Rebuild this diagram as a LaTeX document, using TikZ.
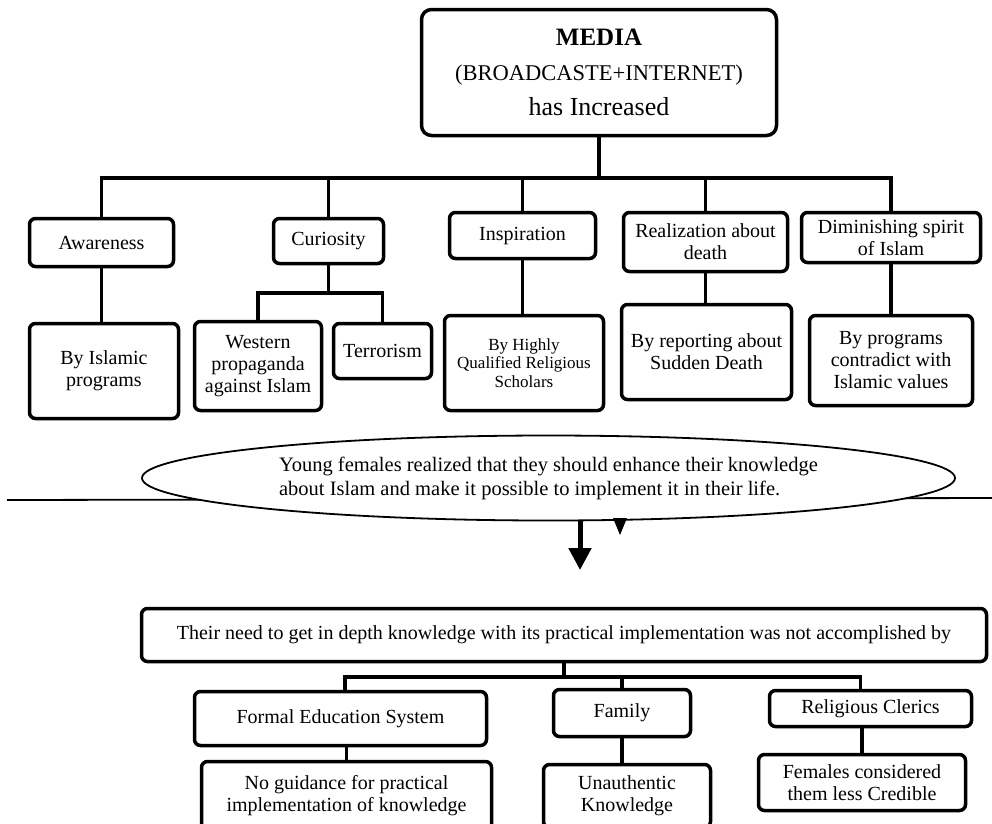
\documentclass[tikz,border=0pt]{standalone}
\usepackage{fontspec}
\setmainfont{Liberation Serif}
\usetikzlibrary{arrows.meta,shapes.geometric}
\begin{document}
\begin{tikzpicture}[x=1pt,y=-1pt,
  box/.style={draw, line width=3.5pt, rounded corners=6pt, align=center, inner sep=0pt, fill=white, font=\fontsize{20}{22}\selectfont},
  conn/.style={line width=3.5pt, line join=miter},
  thinline/.style={line width=1.8pt},
  bigarrow/.style={line width=5pt, -{Triangle[width=22pt,length=22pt]}}
]
\useasboundingbox (0,0) rectangle (992,823);
\clip (0,0) rectangle (992,823);
\fill[white] (0,0) rectangle (992,823);

% top
\node[box, rounded corners=10pt, minimum width=355, minimum height=126, font=\fontsize{24}{35}\selectfont] (media) at (599,72.5)
  {{\bfseries\fontsize{25}{35}\selectfont MEDIA}\\{\fontsize{22.5}{35}\selectfont (BROADCASTE+INTERNET)}\\{\fontsize{26}{35}\selectfont has Increased}};

\node[box, minimum width=144, minimum height=48] (aw) at (101.5,242.5) {Awareness};
\node[box, minimum width=110, minimum height=45] (cur) at (328.5,241) {Curiosity};
\node[box, minimum width=146, minimum height=46] (insp) at (522.5,235.5) {Inspiration};
\node[box, minimum width=164, minimum height=59] (real) at (705.5,242) {Realization about\\death};
\node[box, minimum width=179, minimum height=50] (dim) at (891,237.5) {Diminishing spirit\\of Islam};

\node[box, minimum width=149, minimum height=95] (isl) at (104,371) {By Islamic\\programs};
\node[box, minimum width=127, minimum height=89] (west) at (258,366) {Western\\propaganda\\against Islam};
\node[box, minimum width=98, minimum height=55] (terr) at (382.5,351) {Terrorism};
\node[box, minimum width=159, minimum height=95, font=\fontsize{17}{18.5}\selectfont] (schol) at (524,363) {By Highly\\Qualified Religious\\Scholars};
\node[box, minimum width=170, minimum height=95] (rep) at (706.5,352) {By reporting about\\Sudden Death};
\node[box, minimum width=163, minimum height=90] (prog) at (891,360.5) {By programs\\contradict with\\Islamic values};

\coordinate (bar) at (0,178);
\coordinate (split) at (0,293);

\draw[conn] (media.south) -- (media.south |- bar);
\draw[conn] (aw.north) |- (dim.north |- bar) -- (dim.north);
\draw[conn] (cur.north) -- (cur.north |- bar);
\draw[conn] (insp.north) -- (insp.north |- bar);
\draw[conn] (real.north) -- (real.north |- bar);

\draw[conn] (aw.south) -- (aw.south |- isl.north);
\draw[conn] (cur.south) -- (cur.south |- split);
\draw[conn] (west.north) |- (terr.north |- split) -- (terr.north);
\draw[conn] (insp.south) -- (insp.south |- schol.north);
\draw[conn] (real.south) -- (real.south |- rep.north);
\draw[conn] (dim.south) -- (dim.south |- prog.north);

% ellipse
\coordinate (hl1) at (7,500);
\coordinate (hl2) at (992,498);
\draw[thinline] (hl1) -- (hl2);
\node[draw, ellipse, line width=1.8pt, fill=white, minimum width=813, minimum height=85, inner sep=0pt,
  align=left, font=\fontsize{20.5}{24}\selectfont] (ell) at (548.5,478)
  {Young females realized that they should enhance their knowledge\\about Islam and make it possible to implement it in their life.};

\coordinate (tip) at (580,570);
\draw[bigarrow] (tip |- ell.south) -- (tip);
\coordinate (sa1) at (613,518);
\coordinate (sa2) at (627,518);
\coordinate (sa) at (620,535);
\fill (sa1) -- (sa2) -- (sa) -- cycle;

% bottom
\node[box, minimum width=845, minimum height=53] (need) at (564,635)
  {Their need to get in depth knowledge with its practical implementation was not accomplished by};
\node[box, minimum width=292, minimum height=54] (formal) at (340.5,718.5) {Formal Education System};
\node[box, minimum width=137, minimum height=47] (family) at (622,713) {Family};
\node[box, minimum width=202, minimum height=36] (clerics) at (870.5,708.5) {Religious Clerics};

\node[box, minimum width=290, minimum height=69] (noguid) at (346.5,796) {No guidance for practical\\implementation of knowledge};
\node[box, minimum width=167, minimum height=63] (unauth) at (627,796) {Unauthentic\\Knowledge};
\node[box, minimum width=207, minimum height=56] (fem) at (862,782.5) {Females considered\\them less Credible};

\coordinate (bar2) at (0,677);
\draw[conn] (need.south) -- (need.south |- bar2);
\draw[conn] ([xshift=4.5pt]formal.north) |- ([xshift=-10pt]clerics.north |- bar2) -- ([xshift=-10pt]clerics.north);
\draw[conn] (family.north) -- (family.north |- bar2);
\draw[conn] (noguid.north) -- (noguid.north |- formal.south);
\draw[conn] (family.south) -- (family.south |- unauth.north);
\draw[conn] (fem.north) -- (fem.north |- clerics.south);
\end{tikzpicture}
\end{document}
